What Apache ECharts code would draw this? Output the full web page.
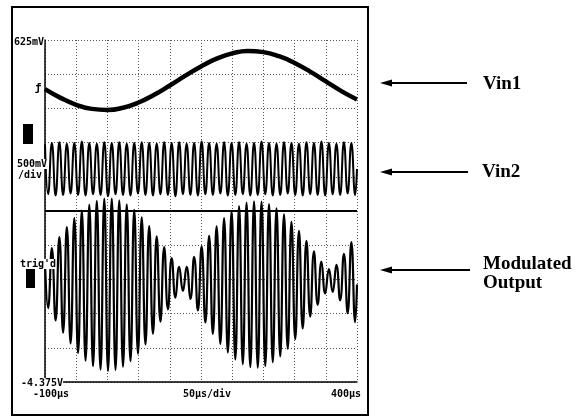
<!DOCTYPE html>
<html><head><meta charset="utf-8">
<script src="https://cdn.jsdelivr.net/npm/echarts@6/dist/echarts.min.js"></script>
<style>html,body{margin:0;padding:0;background:#fff}#c{width:582px;height:418px}</style>
</head><body><div id="c"></div>
<script>
// ---- text ----
const timeTickLabels = ['-100µs', '50µs/div', '400µs'];
const voltTickLabels = ['625mV', '-4.375V'];
const channelLabels = ['500mV', '/div', "trig'd"];
const traceNames = ['Vin1', 'Vin2', 'Modulated', 'Output'];

// ---- screen scale (volts) ----
const screenTop = 0.625;
const screenBottom = -4.375;
const voltsPerDiv = 0.5;
const dividerLevel = -1.875;

// ---- Vin1 (slow sine), read every 25 µs ----
const vin1Times = [-100, -75, -50, -25, 0, 25, 50, 75, 100, 125, 150, 175, 200, 225, 250, 275, 300, 325, 350, 375, 400];
const vin1Values = [-0.093, -0.221, -0.322, -0.382, -0.397, -0.365, -0.289, -0.176, -0.040, 0.103, 0.239,
  0.352, 0.429, 0.463, 0.448, 0.388, 0.289, 0.162, 0.020, -0.122, -0.245];

// ---- carrier extrema times (µs) shared by Vin2 and the output ----
const carrierTimes = [-100,
  -95, -89, -83, -77, -71, -65, -59, -53, -47, -41,
  -35, -29, -23, -17, -11, -5, 1, 7, 13, 19,
  25, 31, 37, 43, 49, 55, 61, 67, 73, 79,
  85, 91, 97, 103, 109, 115, 121, 127, 133, 139,
  145, 151, 157, 163, 169, 175, 181, 187, 193, 199,
  205, 211, 217, 223, 229, 235, 241, 247, 253, 259,
  265, 271, 277, 283, 289, 295, 301, 307, 313, 319,
  325, 331, 337, 343, 349, 355, 361, 367, 373, 379,
  385, 391, 397,
  400];

const vin2Values = [-0.90,
  -1.63, -0.88, -1.65, -0.87, -1.64, -0.89, -1.62, -0.88, -1.64, -0.86,
  -1.65, -0.88, -1.63, -0.89, -1.64, -0.87, -1.66, -0.88, -1.63, -0.87,
  -1.64, -0.89, -1.65, -0.88, -1.62, -0.87, -1.64, -0.88, -1.65, -0.89,
  -1.63, -0.87, -1.64, -0.88, -1.66, -0.87, -1.63, -0.89, -1.64, -0.88,
  -1.65, -0.86, -1.63, -0.88, -1.64, -0.89, -1.62, -0.87, -1.65, -0.88,
  -1.64, -0.87, -1.63, -0.89, -1.65, -0.88, -1.64, -0.86, -1.63, -0.88,
  -1.65, -0.89, -1.64, -0.87, -1.62, -0.88, -1.64, -0.89, -1.65, -0.87,
  -1.63, -0.88, -1.64, -0.86, -1.65, -0.88, -1.63, -0.89, -1.64, -0.87,
  -1.62, -0.88, -1.64,
  -1.26];

const outputValues = [-2.62,
  -3.294, -2.418, -3.476, -2.258, -3.654, -2.112, -3.811, -1.979, -3.950, -1.869,
  -4.063, -1.783, -4.144, -1.725, -4.195, -1.694, -4.214, -1.692, -4.199, -1.720,
  -4.151, -1.776, -4.071, -1.859, -3.961, -1.969, -3.827, -2.096, -3.668, -2.244,
  -3.494, -2.404, -3.312, -2.563, -3.142, -2.690, -3.044, -2.693, -3.161, -2.546,
  -3.329, -2.390, -3.505, -2.239, -3.670, -2.100, -3.818, -1.979, -3.944, -1.878,
  -4.045, -1.803, -4.116, -1.754, -4.157, -1.733, -4.166, -1.739, -4.141, -1.774,
  -4.086, -1.836, -4.001, -1.924, -3.887, -2.034, -3.749, -2.166, -3.592, -2.310,
  -3.420, -2.465, -3.246, -2.615, -3.080, -2.723, -3.058, -2.664, -3.182, -2.500,
  -3.370, -2.330, -3.500,
  -2.95];

// ---- build ----
const toScreen = v => v - screenBottom;
const pairs = (ts, vs) => ts.map((t, i) => [t, toScreen(vs[i])]);

const monoFont = '"DejaVu Sans Mono", monospace';
const serifFont = '"Liberation Serif", "Times New Roman", serif';
const gridDots = { color: '#555', width: 1, type: [1, 2] };

function label(text, x, y, align) {
  return { type: 'text', z: 100, x: x, y: y,
    style: { text: text, font: 'bold 10px ' + monoFont, fill: '#000',
      align: align || 'left', verticalAlign: 'middle', backgroundColor: '#fff' } };
}
function arrow(y, x0, x1) {
  return [
    { type: 'line', z: 100, shape: { x1: x0 + 8, y1: y, x2: x1, y2: y }, style: { stroke: '#000', lineWidth: 2 } },
    { type: 'polygon', z: 100, shape: { points: [[x0, y], [x0 + 12, y - 3.5], [x0 + 12, y + 3.5]] }, style: { fill: '#000' } }
  ];
}
function bigText(text, x, y) {
  return { type: 'text', z: 100, x: x, y: y,
    style: { text: text, font: 'bold 19px ' + serifFont, fill: '#000', align: 'left', verticalAlign: 'middle' } };
}

const chart = echarts.init(document.getElementById('c'), null, { renderer: 'canvas' });
chart.setOption({
  animation: false,
  backgroundColor: '#fff',
  grid: { left: 45, top: 40, right: 225, bottom: 36 },
  xAxis: {
    type: 'value', min: -100, max: 400, interval: 50,
    axisLine: { show: true, onZero: false, lineStyle: { color: '#000', width: 1.5 } },
    axisTick: { show: false }, axisLabel: { show: false },
    splitLine: { show: true, lineStyle: gridDots }
  },
  yAxis: {
    type: 'value', min: 0, max: toScreen(screenTop), interval: voltsPerDiv,
    axisLine: { show: true, onZero: false, lineStyle: { color: '#000', width: 1.5 } },
    axisTick: { show: false }, axisLabel: { show: false },
    splitLine: { show: true, lineStyle: gridDots }
  },
  series: [
    { name: traceNames[0], type: 'line', data: pairs(vin1Times, vin1Values), smooth: true,
      symbol: 'none', lineStyle: { color: '#000', width: 4.5 }, z: 5 },
    { name: traceNames[1], type: 'line', data: pairs(carrierTimes, vin2Values), smooth: true,
      symbol: 'none', lineStyle: { color: '#000', width: 2 }, z: 4,
      markLine: { silent: true, symbol: 'none', label: { show: false },
        lineStyle: { color: '#000', width: 2, type: 'solid' },
        data: [{ yAxis: toScreen(dividerLevel) }] } },
    { name: traceNames[2] + ' ' + traceNames[3], type: 'line', data: pairs(carrierTimes, outputValues), smooth: true,
      symbol: 'none', lineStyle: { color: '#000', width: 2.2 }, z: 3 }
  ],
  graphic: [
    { type: 'rect', z: 100, shape: { x: 12, y: 7, width: 356, height: 408 },
      style: { fill: 'none', stroke: '#000', lineWidth: 2 } },
    { type: 'rect', z: 100, shape: { x: 23, y: 124, width: 10, height: 20 }, style: { fill: '#000' } },
    { type: 'rect', z: 100, shape: { x: 26, y: 269, width: 9, height: 19 }, style: { fill: '#000' } },
    { type: 'text', z: 100, x: 38, y: 88, style: { text: 'ƒ', font: 'bold 11px ' + monoFont, fill: '#000', align: 'center', verticalAlign: 'middle' } },
    label(voltTickLabels[0], 14, 42),
    label(channelLabels[0], 17, 164),
    label(channelLabels[1], 18, 175),
    label(channelLabels[2], 20, 264),
    label(voltTickLabels[1], 21, 383),
    label(timeTickLabels[0], 33, 394),
    label(timeTickLabels[1], 207, 394, 'center'),
    label(timeTickLabels[2], 361, 394, 'right'),
    ...arrow(83, 380, 467),
    ...arrow(172, 380, 468),
    ...arrow(270, 380, 470),
    bigText(traceNames[0], 483, 84),
    bigText(traceNames[1], 482, 172),
    bigText(traceNames[2], 483, 264),
    bigText(traceNames[3], 483, 283)
  ]
});
</script></body></html>
